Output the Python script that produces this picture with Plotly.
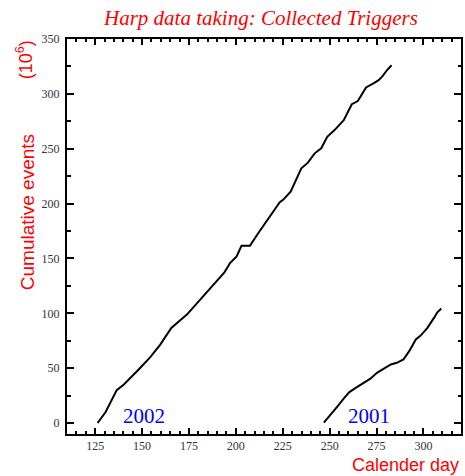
import plotly.graph_objects as go

# Cumulative collected triggers (millions) versus calendar day
days_2002 = [126.3, 130.6, 136.5, 140.3, 148.2, 154.4, 159.7, 165.6, 173.9, 180.1,
             186.3, 189.8, 193.9, 196.9, 200.4, 203.0, 207.5, 211.9, 216.3, 219.9,
             221.6, 223.4, 225.2, 229.2, 234.9, 238.4, 242.0, 245.5, 248.7, 252.6,
             257.5, 261.8, 265.0, 269.4, 273.8, 276.1, 278.2, 280.5, 283.0]
events_2002 = [0.0, 10.0, 30.0, 35.2, 48.8, 60.0, 71.5, 86.7, 98.8, 110.9,
               123.0, 129.0, 137.3, 145.8, 151.8, 161.5, 161.5, 173.0, 183.6, 192.7,
               195.8, 201.2, 203.4, 210.9, 232.2, 237.3, 245.8, 250.4, 260.9, 267.0,
               276.1, 290.6, 293.4, 305.8, 310.0, 312.5, 316.1, 321.5, 326.1]

days_2001 = [246.9, 249.0, 254.3, 257.9, 260.5, 264.1, 267.6, 271.7, 275.2, 279.1,
             282.6, 285.8, 289.3, 292.4, 295.9, 298.5, 302.1, 305.6, 307.4, 309.5]
events_2001 = [0.3, 4.9, 15.5, 23.1, 28.2, 32.2, 36.1, 40.4, 45.8, 49.5,
               53.4, 54.9, 57.9, 65.5, 76.1, 79.7, 86.7, 95.8, 100.9, 104.3]

year_labels = ["2002", "2001"]
year_label_days = [150.9, 270.8]
year_label_value = 6.5

x_range = [110, 320]
y_range = [-10, 350]
x_step, x_minor = 25, 5
y_step, y_minor = 50, 25

fig = go.Figure()
for xs, ys in [(days_2002, events_2002), (days_2001, events_2001)]:
    fig.add_trace(go.Scatter(x=xs, y=ys, mode="lines",
                             line=dict(color="black", width=2),
                             showlegend=False, hoverinfo="skip"))
# empty trace so the secondary (minor-tick) axes are rendered
fig.add_trace(go.Scatter(x=[None], y=[None], xaxis="x2", yaxis="y2",
                         showlegend=False, hoverinfo="skip"))

tick_font = dict(family="Liberation Serif", size=12, color="#333")
TW = 1.5

W, H = 465, 476
L, R, T, B = 67, 2, 39, 42
pw, ph = W - L - R, H - T - B

fig.update_layout(
    # major ticks with labels, mirrored on the top/right frame
    xaxis=dict(range=x_range, tickmode="linear", tick0=0, dtick=x_step,
               ticks="inside", ticklen=6, tickwidth=TW, tickcolor="black",
               showgrid=False, zeroline=False, tickfont=tick_font,
               showline=True, linewidth=2, linecolor="black", mirror="ticks"),
    yaxis=dict(range=y_range, tickmode="linear", tick0=0, dtick=y_step,
               ticks="inside", ticklen=7, tickwidth=TW, tickcolor="black",
               showgrid=False, zeroline=False, tickfont=tick_font,
               showline=True, linewidth=2, linecolor="black", mirror="ticks",
               ticklabelstandoff=3),
    # minor ticks on overlaid axes
    xaxis2=dict(range=x_range, tickmode="linear", tick0=0, dtick=x_minor,
                ticks="inside", ticklen=3, tickwidth=TW, tickcolor="black",
                showgrid=False, zeroline=False, showticklabels=False,
                overlaying="x", anchor="y2", side="bottom", mirror="ticks",
                showline=False),
    yaxis2=dict(range=y_range, tickmode="linear", tick0=0, dtick=y_minor,
                ticks="inside", ticklen=3.5, tickwidth=TW, tickcolor="black",
                showgrid=False, zeroline=False, showticklabels=False,
                overlaying="y", anchor="x2", side="left", mirror="ticks",
                showline=False),
)

annotations = [
    dict(text="Harp data taking: Collected Triggers", x=0.49, y=1.0, xref="paper",
         yref="paper", xanchor="center", yanchor="bottom", yshift=7, showarrow=False,
         font=dict(family="Liberation Serif", size=21, color="red", style="italic")),
    dict(text="Cumulative events", x=27, y=212, xref="paper", yref="paper",
         showarrow=False, textangle=-90,
         font=dict(family="Liberation Sans", size=19, color="red")),
    dict(text="(10<sup>6</sup>)", x=25, y=60, xref="paper", yref="paper",
         showarrow=False, textangle=-90,
         font=dict(family="Liberation Sans", size=18, color="red")),
    dict(text="Calender day", x=1.0, y=0, xref="paper", yref="paper",
         xanchor="right", yanchor="top", yshift=-19, showarrow=False,
         font=dict(family="Liberation Sans", size=18, color="red")),
]
# pixel-placed axis captions converted to paper coordinates
for a in annotations[1:3]:
    a["x"] = (a["x"] - L) / pw
    a["y"] = 1 - (a["y"] - T) / ph
    a["xanchor"] = "center"
    a["yanchor"] = "middle"

for txt, d in zip(year_labels, year_label_days):
    annotations.append(dict(text=txt, x=d, y=year_label_value, xref="x", yref="y",
                            showarrow=False,
                            font=dict(family="Liberation Serif", size=21, color="blue")))

fig.update_layout(width=W, height=H, margin=dict(l=L, r=R, t=T, b=B),
                  plot_bgcolor="white", paper_bgcolor="white",
                  annotations=annotations)

fig.write_html("out.html")
